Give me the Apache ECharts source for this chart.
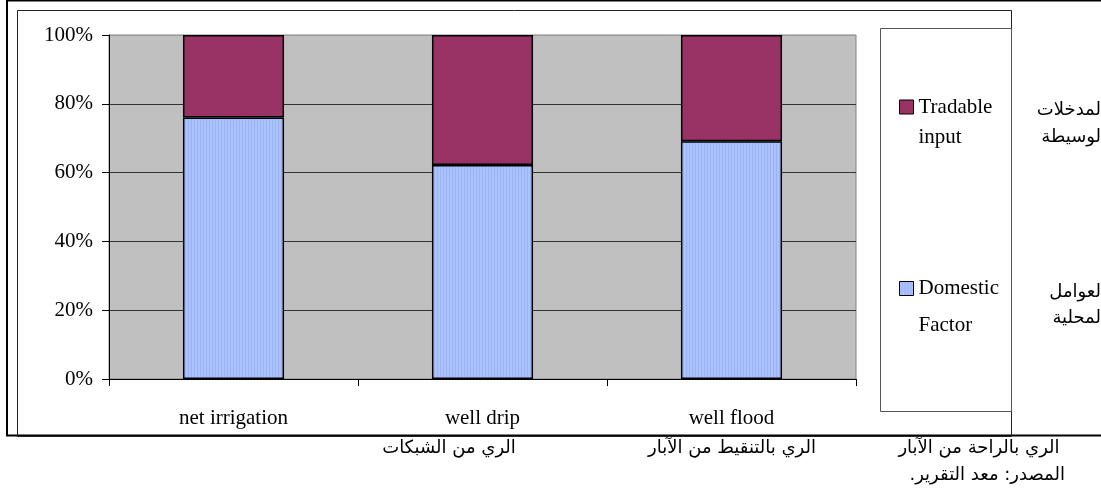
<!DOCTYPE html>
<html>
<head>
<meta charset="utf-8">
<script src="https://cdn.jsdelivr.net/npm/echarts@6/dist/echarts.min.js"></script>
<style>
  html, body { margin: 0; padding: 0; background: #ffffff; }
  #chart { width: 1101px; height: 499px; }
</style>
</head>
<body>
<div id="chart"></div>
<script>
// Cost structure by irrigation method (share of total, %)
const categories = ['net irrigation', 'well drip', 'well flood'];
const seriesNames = ['Domestic Factor', 'Tradable input'];
const domesticFactor = [76, 62.2, 69.1];
const tradableInput = [24, 37.8, 30.9];
const yTickValues = [0, 20, 40, 60, 80, 100];

// Arabic captions printed around the chart
const arabicSeriesNames = ['المدخلات', 'الوسيطة', 'العوامل', 'المحلية'];
const arabicCategories = ['الري من الشبكات', 'الري بالتنقيط من الآبار', 'الري بالراحة من الآبار'];
const sourceNote = 'المصدر: معد التقرير.\u200F';

// light blue fill with fine vertical stripes
function stripePattern() {
  const c = document.createElement('canvas');
  c.width = 3; c.height = 4;
  const g = c.getContext('2d');
  g.fillStyle = '#adc3ff';
  g.fillRect(0, 0, 3, 4);
  g.fillStyle = '#9ab2f8';
  g.fillRect(2, 0, 1, 4);
  return c;
}

const serif = '"Liberation Serif", "Times New Roman", serif';
const arabicFont = '"DejaVu Sans", "Liberation Sans", sans-serif';

const chart = echarts.init(document.getElementById('chart'), null, { renderer: 'canvas' });

function arabicText(text, x, y, align) {
  return {
    type: 'text',
    x: x, y: y,
    silent: true,
    style: {
      text: text,
      font: '18px ' + arabicFont,
      fill: '#000',
      align: align || 'center',
      verticalAlign: 'middle'
    }
  };
}

// legend labels wrap onto two lines; a blank leading line keeps the
// first word level with the swatch
const legendLabel = name => ' \n' + name.replace(' ', '\n');

const option = {
  animation: false,
  backgroundColor: '#ffffff',
  grid: {
    left: 109, right: 245, top: 35, bottom: 120,
    show: true,
    backgroundColor: '#c0c0c0',
    borderColor: '#808080',
    borderWidth: 1
  },
  legend: {
    orient: 'vertical',
    left: 899,
    top: 62,
    padding: 0,
    itemGap: 81,
    itemWidth: 14,
    itemHeight: 14,
    icon: 'rect',
    data: [
      { name: seriesNames[1], textStyle: { lineHeight: 30 } },
      { name: seriesNames[0], textStyle: { lineHeight: 37 } }
    ],
    itemStyle: { borderColor: '#000', borderWidth: 1 },
    formatter: legendLabel,
    textStyle: {
      fontFamily: serif,
      fontSize: 21,
      color: '#000',
      lineHeight: 30
    }
  },
  xAxis: {
    type: 'category',
    data: categories,
    boundaryGap: true,
    axisLine: { show: true, lineStyle: { color: '#000', width: 1 } },
    axisTick: { show: true, length: 7, lineStyle: { color: '#000' } },
    axisLabel: { fontFamily: serif, fontSize: 21, color: '#000', margin: 29 },
    splitLine: { show: false }
  },
  yAxis: {
    type: 'value',
    min: yTickValues[0],
    max: yTickValues[yTickValues.length - 1],
    interval: yTickValues[1] - yTickValues[0],
    axisLine: { show: true, lineStyle: { color: '#000', width: 1 } },
    axisTick: { show: true, length: 7, lineStyle: { color: '#000' } },
    axisLabel: { formatter: '{value}%', fontFamily: serif, fontSize: 21, color: '#000', margin: 16 },
    splitLine: {
      show: true,
      lineStyle: { color: ['#222', '#333', '#333', '#333', '#333', '#9a9a9a'], width: 1 }
    }
  },
  series: [
    {
      name: seriesNames[0],
      type: 'bar',
      stack: 'share',
      barWidth: '40.6%',
      data: domesticFactor,
      itemStyle: {
        color: { image: stripePattern(), repeat: 'repeat' },
        borderColor: '#000',
        borderWidth: 1.5
      }
    },
    {
      name: seriesNames[1],
      type: 'bar',
      stack: 'share',
      barWidth: '40.6%',
      data: tradableInput,
      itemStyle: {
        color: '#993366',
        borderColor: '#000',
        borderWidth: 1.5
      }
    }
  ],
  graphic: [
    // outer page frame
    { type: 'rect', silent: true, shape: { x: 7, y: 0.5, width: 1110, height: 435 },
      style: { fill: 'none', stroke: '#000', lineWidth: 2 } },
    // chart area frame
    { type: 'rect', silent: true, shape: { x: 17.5, y: 10.5, width: 994, height: 426 },
      style: { fill: 'none', stroke: '#222', lineWidth: 1 } },
    // legend box
    { type: 'rect', silent: true, shape: { x: 880.5, y: 28.5, width: 131, height: 383 },
      style: { fill: 'none', stroke: '#555', lineWidth: 1 } },
    arabicText(arabicSeriesNames[0], 1106, 110, 'right'),
    arabicText(arabicSeriesNames[1], 1106, 137, 'right'),
    arabicText(arabicSeriesNames[2], 1106, 292, 'right'),
    arabicText(arabicSeriesNames[3], 1106, 318, 'right'),
    arabicText(arabicCategories[0], 449, 448),
    arabicText(arabicCategories[1], 732, 448),
    arabicText(arabicCategories[2], 979, 448),
    arabicText(sourceNote, 1065, 475, 'right')
  ]
};

chart.setOption(option);
</script>
</body>
</html>
